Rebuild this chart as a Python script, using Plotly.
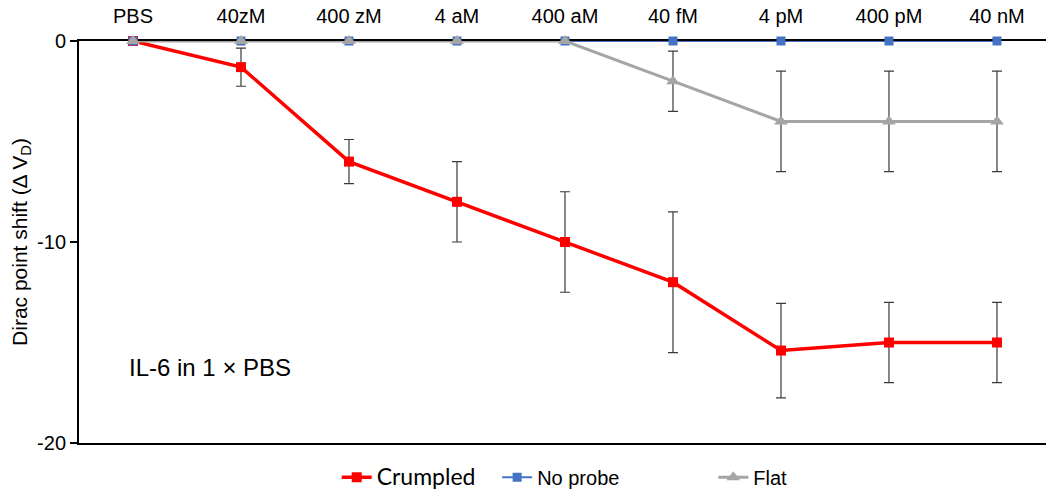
import plotly.graph_objects as go

categories = ["PBS", "40zM", "400 zM", "4 aM", "400 aM", "40 fM", "4 pM", "400 pM", "40 nM"]
crumpled = [0, -1.3, -6.0, -8.0, -10.0, -12.0, -15.4, -15.0, -15.0]
crumpled_err = [0, 0.95, 1.1, 2.0, 2.5, 3.5, 2.35, 2.0, 2.0]
no_probe = [0, 0, 0, 0, 0, 0, 0, 0, 0]
flat = [0, 0, 0, 0, 0, -2.0, -4.0, -4.0, -4.0]
flat_err = [0, 0, 0, 0, 0, 1.5, 2.5, 2.5, 2.5]
y_ticks = [0, -10, -20]
y_ticktext = ["0", "-10", "-20"]

xs = list(range(len(categories)))
NB = "\u00a0"

fig = go.Figure()
fig.add_trace(go.Scatter(
    x=xs, y=crumpled,
    name='<span style="font-size:23px;font-family:Lato">Crumpled</span>' + NB * 3,
    mode="lines+markers",
    line=dict(color="#FF0000", width=3.5),
    marker=dict(symbol="square", size=10, color="#FF0000"),
    error_y=dict(type="data", array=crumpled_err, color="#3a3a3a", thickness=1.2, width=5),
    cliponaxis=False,
))
fig.add_trace(go.Scatter(
    x=xs, y=no_probe, name="No probe" + NB * 16,
    mode="lines+markers",
    line=dict(color="#4472C4", width=2),
    marker=dict(symbol="square", size=9, color="#4472C4"),
    cliponaxis=False,
))
fig.add_trace(go.Scatter(
    x=xs, y=flat, name="Flat",
    mode="lines+markers",
    line=dict(color="#A5A5A5", width=3),
    marker=dict(symbol="triangle-up", size=12, color="#A5A5A5"),
    error_y=dict(type="data", array=flat_err, color="#3a3a3a", thickness=1.2, width=5),
    cliponaxis=False,
))

fig.add_annotation(
    text="IL-6 in 1 × PBS", xref="paper", yref="paper",
    x=0.05, y=0.187, xanchor="left", yanchor="middle", showarrow=False,
    font=dict(size=24, color="#000000", family="Liberation Sans"),
)

fig.update_layout(
    width=1046, height=491,
    margin=dict(l=79, r=0, t=41, b=48, autoexpand=False),
    plot_bgcolor="white", paper_bgcolor="white",
    font=dict(family="Liberation Sans", size=20, color="#000000"),
    showlegend=True,
    legend=dict(orientation="h", x=0.2665, xanchor="left", y=-0.085, yanchor="middle",
                font=dict(size=20), itemclick=False),
    xaxis=dict(
        side="top", range=[-0.5, 8.454], tickmode="array", tickvals=xs, ticktext=categories,
        showline=True, linecolor="#000000", linewidth=2, mirror=True,
        showgrid=False, zeroline=False, ticks="", ticklabelstandoff=8,
        tickfont=dict(size=20), layer="below traces",
    ),
    yaxis=dict(
        range=[-20, 0], tickmode="array", tickvals=y_ticks, ticktext=y_ticktext,
        showline=True, linecolor="#000000", linewidth=2,
        showgrid=False, zeroline=False, ticks="outside", ticklen=7, tickwidth=2,
        tickcolor="#000000", tickfont=dict(size=20), layer="below traces",
        title=dict(text="Dirac point shift (Δ V<sub>D</sub>)", font=dict(size=21), standoff=4),
    ),
)

fig.write_html("out.html")
